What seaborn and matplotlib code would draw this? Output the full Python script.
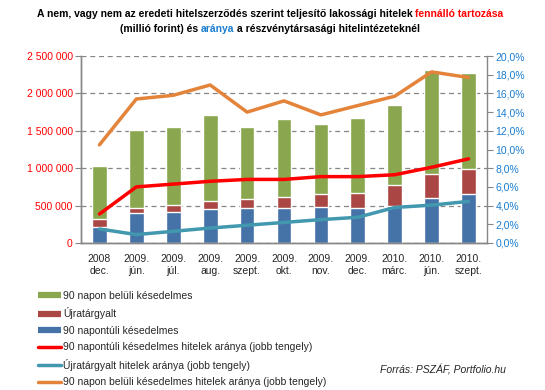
"""Nem teljesítő lakossági hitelek: halmozott oszlopok + arányok a jobb tengelyen."""

import numpy as np
import pandas as pd
import matplotlib
matplotlib.use('Agg')
import matplotlib.pyplot as plt
from matplotlib.lines import Line2D
from matplotlib.ticker import FuncFormatter, FixedLocator
import seaborn as sns

# Data (millió forint / %)
dates = ['2008\ndec.', '2009.\njún.', '2009.\njúl.', '2009.\naug.', '2009.\nszept.',
         '2009.\nokt.', '2009.\nnov.', '2009.\ndec.', '2010.\nmárc.', '2010.\njún.',
         '2010.\nszept.']
over_90 = [210000, 401000, 414000, 455000, 472000, 472000, 481000, 472000, 495000, 602000, 655000]
restructured = [111000, 71000, 98000, 106000, 116000, 143000, 174000, 196000, 280000, 320000, 334000]
within_90 = [708000, 1039000, 1039000, 1150000, 963000, 1043000, 936000, 1003000, 1070000, 1391000, 1284000]

over_90_ratio = [3.1, 6.0, 6.3, 6.6, 6.8, 6.8, 7.1, 7.1, 7.3, 8.1, 9.0]
restructured_ratio = [1.5, 0.9, 1.25, 1.6, 1.9, 2.2, 2.5, 2.75, 3.8, 4.05, 4.45]
within_90_ratio = [10.5, 15.4, 15.8, 16.9, 14.0, 15.2, 13.7, 14.7, 15.7, 18.3, 17.7]

GREEN = '#8aa64e'
DARKRED = '#aa4643'
BLUE = '#4572a7'
RED = '#ff0000'
TEAL = '#4198af'
ORANGE = '#e4843a'
GRAY = '#868686'
TICKBLUE = '#1a7dd0'

sns.set_style('white')
plt.rcParams['font.family'] = ['Liberation Sans', 'DejaVu Sans']
FS = 7.5

df = pd.DataFrame({'date': dates, 'over': over_90, 'restr': restructured, 'within': within_90})
df['top_red'] = df['over'] + df['restr']
df['top_all'] = df['top_red'] + df['within']

fig = plt.figure(figsize=(5.45, 3.9), dpi=100)
ax = fig.add_axes([81 / 545, 1 - 243 / 390, (487 - 81) / 545, (243 - 56) / 390])

# stacked bars drawn as overlapping cumulative bars
for col, c in [('top_all', GREEN), ('top_red', DARKRED), ('over', BLUE)]:
    sns.barplot(data=df, x='date', y=col, color=c, width=0.4, saturation=1,
                errorbar=None, ax=ax, zorder=2)

ax.set_ylim(0, 2500000)
ax.set_xlim(-0.5, 10.5)
ax.yaxis.set_major_locator(FixedLocator(np.arange(0, 2500001, 500000)))
ax.yaxis.set_major_formatter(FuncFormatter(lambda v, p: f'{int(v):,}'.replace(',', ' ')))
ax.grid(axis='y', linestyle=(0, (4, 3)), color=GRAY, linewidth=0.9, zorder=0)
ax.set_axisbelow(True)
ax.set_xlabel('')
ax.set_ylabel('')

ax2 = ax.twinx()
x = np.arange(len(dates))
for vals, c in [(over_90_ratio, RED), (restructured_ratio, TEAL), (within_90_ratio, ORANGE)]:
    sns.lineplot(x=x, y=vals, color=c, linewidth=2.5, ax=ax2, legend=False)
ax2.set_ylim(0, 20)
ax2.set_xlim(-0.5, 10.5)
ax2.yaxis.set_major_locator(FixedLocator(np.arange(0, 20.1, 2)))
ax2.yaxis.set_major_formatter(FuncFormatter(lambda v, p: f'{v:.1f}%'.replace('.', ',')))
ax2.set_ylabel('')

for a in (ax, ax2):
    for s in a.spines.values():
        s.set_color(GRAY)
        s.set_linewidth(1)
    a.spines['top'].set_visible(False)
ax.spines['right'].set_visible(False)

ax.tick_params(axis='y', length=4, color=GRAY, labelcolor=RED, labelsize=FS, pad=2)
ax2.tick_params(axis='y', length=4, color=GRAY, labelcolor=TICKBLUE, labelsize=FS, pad=2)
ax.tick_params(axis='x', which='major', length=0, labelsize=FS, pad=8)
ax.set_xticks(np.arange(-0.5, 11, 1), minor=True)
ax.tick_params(axis='x', which='minor', length=4, color=GRAY)

# title with coloured words
def colored_line(y, parts, cx=270):
    r = fig.canvas.get_renderer()
    def width(s):
        t = fig.text(0, 0, s, fontsize=FS, fontweight='bold')
        w = t.get_window_extent(r).width
        t.remove()
        return w
    sw = width('a a') - width('aa')
    xpos = []
    total = 0
    for s, c in parts:
        lead = len(s) - len(s.lstrip(' '))
        trail = len(s) - len(s.rstrip(' '))
        total += lead * sw
        xpos.append(total)
        total += width(s.strip()) + trail * sw
    x0 = cx - total / 2
    for (s, c), xp in zip(parts, xpos):
        fig.text((x0 + xp) / 545, y, s.strip(), color=c, fontsize=FS,
                 fontweight='bold', va='center')

fig.canvas.draw()
colored_line(1 - 14 / 390, [('A nem, vagy nem az eredeti hitelszerződés szerint teljesítő lakossági hitelek ', 'black'),
                            ('fennálló tartozása', RED)])
colored_line(1 - 29 / 390, [('(millió forint) és ', 'black'), ('aránya', TICKBLUE),
                            (' a részvénytársasági hitelintézeteknél', 'black')])

handles = [Line2D([], [], color=GREEN, lw=4.5, solid_capstyle='butt'),
           Line2D([], [], color=DARKRED, lw=4.5, solid_capstyle='butt'),
           Line2D([], [], color=BLUE, lw=4.5, solid_capstyle='butt'),
           Line2D([], [], color=RED, lw=2.5),
           Line2D([], [], color=TEAL, lw=2.5),
           Line2D([], [], color=ORANGE, lw=2.5)]
labels = ['90 napon belüli késedelmes', 'Újratárgyalt', '90 napontúli késedelmes',
          '90 napontúli késedelmes hitelek aránya (jobb tengely)',
          'Újratárgyalt hitelek aránya (jobb tengely)',
          '90 napon belüli késedelmes hitelek aránya (jobb tengely)']
fig.legend(handles, labels, loc='upper left', bbox_to_anchor=(38 / 545, 1 - 291 / 390),
           frameon=False, fontsize=FS, handlelength=2.2, handletextpad=0.2,
           labelspacing=0.62, borderpad=0, borderaxespad=0)

fig.text(506 / 545, 1 - 370 / 390, 'Forrás: PSZÁF, Portfolio.hu', ha='right', va='center',
         fontsize=FS, style='italic')

fig.savefig('out.png', dpi=100)
